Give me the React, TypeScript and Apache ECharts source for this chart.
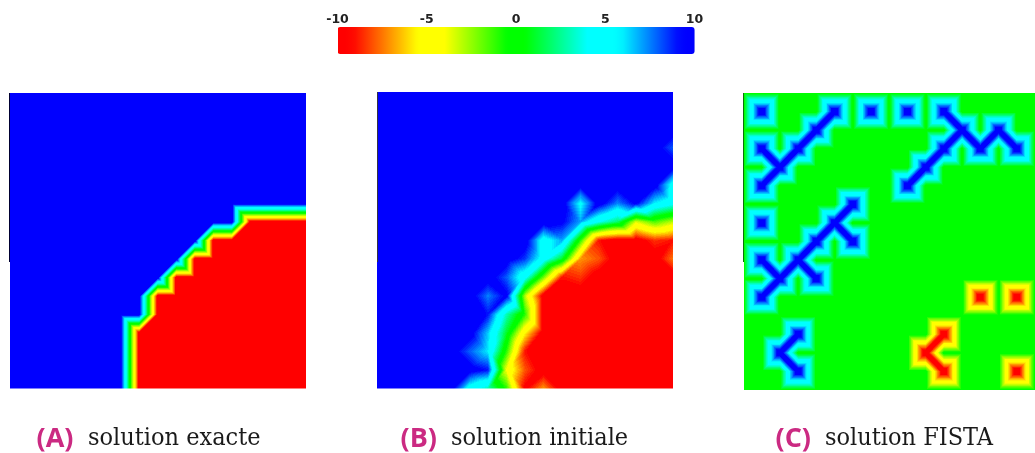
import React, { useEffect, useRef } from "react";
import * as echarts from "echarts";

const W = 1035;
const H = 453;

const scaleTicks = [-10, -5, 0, 5, 10];
const rampValues = [-10, -9.2, -5.5, -4, -0.5, 0.5, 4, 5.8, 9.2, 10];
const rampColors = ["#ff0000", "#ff0000", "#ffff00", "#ffff00", "#00ff00", "#00ff00", "#00ffff", "#00ffff", "#0000ff", "#0000ff"];
const captionLetters = ["(A)", "(B)", "(C)"];
const captionTexts = ["solution exacte", "solution initiale", "solution FISTA"];

// Node values on a 17 x 17 mesh (rows from top to bottom)
const exactValues: number[][] = [
  [10,10,10,10,10,10,10,10,10,10,10,10,10,10,10,10,10],
  [10,10,10,10,10,10,10,10,10,10,10,10,10,10,10,10,10],
  [10,10,10,10,10,10,10,10,10,10,10,10,10,10,10,10,10],
  [10,10,10,10,10,10,10,10,10,10,10,10,10,10,10,10,10],
  [10,10,10,10,10,10,10,10,10,10,10,10,10,10,10,10,10],
  [10,10,10,10,10,10,10,10,10,10,10,10,10,10,10,10,10],
  [10,10,10,10,10,10,10,10,10,10,10,10,10,10,10,10,10],
  [10,10,10,10,10,10,10,10,10,10,10,10,10,-10,-10,-10,-10],
  [10,10,10,10,10,10,10,10,10,10,10,-10,-10,-10,-10,-10,-10],
  [10,10,10,10,10,10,10,10,10,10,-10,-10,-10,-10,-10,-10,-10],
  [10,10,10,10,10,10,10,10,10,-10,-10,-10,-10,-10,-10,-10,-10],
  [10,10,10,10,10,10,10,10,-10,-10,-10,-10,-10,-10,-10,-10,-10],
  [10,10,10,10,10,10,10,10,-10,-10,-10,-10,-10,-10,-10,-10,-10],
  [10,10,10,10,10,10,10,-10,-10,-10,-10,-10,-10,-10,-10,-10,-10],
  [10,10,10,10,10,10,10,-10,-10,-10,-10,-10,-10,-10,-10,-10,-10],
  [10,10,10,10,10,10,10,-10,-10,-10,-10,-10,-10,-10,-10,-10,-10],
  [10,10,10,10,10,10,10,-10,-10,-10,-10,-10,-10,-10,-10,-10,-10],
];

const initialValues: number[][] = [
  [10,10,10,10,10,10,10,10,10,10,10,10,10,10,10,10,10],
  [10,10,10,10,10,10,10,10,10,10,10,10,10,10,10,10,10],
  [10,10,10,10,10,10,10,10,10,10,10,10,10,10,10,10,10],
  [10,10,10,10,10,10,10,10,10,10,10,10,10,10,10,10,8],
  [10,10,10,10,10,10,10,10,10,10,10,10,10,10,10,10,10],
  [10,10,10,10,10,10,10,10,10,10,10,10,10,10,10,10,5],
  [10,10,10,10,10,10,10,10,10,10,10,5.5,10,7.5,9.5,6,4.5],
  [10,10,10,10,10,10,10,10,10,10,9.5,7,4,2,-3.5,-1.5,-3],
  [10,10,10,10,10,10,10,10,10,5,7,-1,-9,-10,-10,-8.5,-9],
  [10,10,10,10,10,10,10,10,8.5,5,1,-7,-8,-10,-10,-10,-7.5],
  [10,10,10,10,10,10,10,8,4.5,-2,-9,-8.5,-10,-10,-10,-10,-10],
  [10,10,10,10,10,10,7.5,9.5,-3,-10,-10,-10,-10,-10,-10,-10,-10],
  [10,10,10,10,10,10,9,3,-1,-10,-10,-10,-10,-10,-10,-10,-10],
  [10,10,10,10,10,10,6.5,1,-5.5,-10,-10,-10,-10,-10,-10,-10,-10],
  [10,10,10,10,10,8,6,-1,-9,-10,-10,-10,-10,-10,-10,-10,-10],
  [10,10,10,10,10,10,9,-4,-8,-10,-10,-10,-10,-10,-10,-10,-10],
  [10,10,10,10,10,5,3,-1,-9.5,-7,-10,-10,-10,-10,-10,-10,-10],
];

const fistaValues: number[][] = [
  [0,0,0,0,0,0,0,0,0,0,0,0,0,0,0,0,0],
  [0,11,0,0,0,11,0,11,0,11,0,11,0,0,0,0,0],
  [0,0,0,0,11,0,0,0,0,0,0,0,11,0,11,0,0],
  [0,11,0,11,0,0,0,0,0,0,0,11,0,11,0,11,0],
  [0,0,11,0,0,0,0,0,0,0,11,0,0,0,0,0,0],
  [0,11,0,0,0,0,0,0,0,11,0,0,0,0,0,0,0],
  [0,0,0,0,0,0,11,0,0,0,0,0,0,0,0,0,0],
  [0,11,0,0,0,11,0,0,0,0,0,0,0,0,0,0,0],
  [0,0,0,0,11,0,11,0,0,0,0,0,0,0,0,0,0],
  [0,11,0,11,0,0,0,0,0,0,0,0,0,0,0,0,0],
  [0,0,11,0,11,0,0,0,0,0,0,0,0,0,0,0,0],
  [0,11,0,0,0,0,0,0,0,0,0,0,0,-11,0,-11,0],
  [0,0,0,0,0,0,0,0,0,0,0,0,0,0,0,0,0],
  [0,0,0,11,0,0,0,0,0,0,0,-11,0,0,0,0,0],
  [0,0,11,0,0,0,0,0,0,0,-11,0,0,0,0,0,0],
  [0,0,0,11,0,0,0,0,0,0,0,-11,0,0,0,-11,0],
  [0,0,0,0,0,0,0,0,0,0,0,0,0,0,0,0,0],
];

const panels = [exactValues, initialValues, fistaValues];

function colorOf(v: number): string {
  const x = Math.max(rampValues[0], Math.min(rampValues[rampValues.length - 1], v));
  let k = 0;
  while (k < rampValues.length - 2 && x > rampValues[k + 1]) k++;
  const f = (x - rampValues[k]) / (rampValues[k + 1] - rampValues[k]);
  const a = echarts.color.parse(rampColors[k]);
  const b = echarts.color.parse(rampColors[k + 1]);
  const c = [0, 1, 2].map((n) => Math.round(a[n] + (b[n] - a[n]) * f));
  return `rgb(${c[0]},${c[1]},${c[2]})`;
}

type P = [number, number, number];

function clipAbove(poly: P[], level: number, keepAbove: boolean): P[] {
  const out: P[] = [];
  const inside = (p: P) => (keepAbove ? p[2] >= level : p[2] <= level);
  for (let n = 0; n < poly.length; n++) {
    const a = poly[n];
    const b = poly[(n + 1) % poly.length];
    const ia = inside(a);
    const ib = inside(b);
    if (ia) out.push(a);
    if (ia !== ib) {
      const f = (level - a[2]) / (b[2] - a[2]);
      out.push([a[0] + (b[0] - a[0]) * f, a[1] + (b[1] - a[1]) * f, level]);
    }
  }
  return out;
}

function shadeTriangle(tri: P[], children: any[]) {
  const lo = Math.min(tri[0][2], tri[1][2], tri[2][2]);
  const hi = Math.max(tri[0][2], tri[1][2], tri[2][2]);
  const step = 0.25;
  for (let m = Math.round(lo / step); m <= Math.round(hi / step); m++) {
    const mid = m * step;
    let poly = clipAbove(tri, mid - step / 2, true);
    if (poly.length) poly = clipAbove(poly, mid + step / 2, false);
    if (poly.length < 3) continue;
    children.push({
      type: "polygon",
      shape: { points: poly.map((p) => [p[0], p[1]]) },
      style: { fill: colorOf(mid) },
    });
  }
}

function renderCell(_params: any, api: any) {
  const i = api.value(0);
  const j = api.value(1);
  const corner = (x: number, y: number, v: number): P => {
    const c = api.coord([x, y]);
    return [c[0], c[1], v];
  };
  const a = corner(i, j, api.value(2));
  const b = corner(i + 1, j, api.value(3));
  const c = corner(i, j + 1, api.value(4));
  const d = corner(i + 1, j + 1, api.value(5));
  const children: any[] = [];
  if (a[2] === b[2] && b[2] === c[2] && c[2] === d[2]) {
    children.push({
      type: "polygon",
      shape: { points: [a, b, d, c].map((p) => [p[0], p[1]]) },
      style: { fill: colorOf(a[2]) },
    });
  } else if ((i + j) % 2 === 0) {
    shadeTriangle([a, b, d], children);
    shadeTriangle([a, c, d], children);
  } else {
    shadeTriangle([b, a, c], children);
    shadeTriangle([b, d, c], children);
  }
  return { type: "group", children };
}

function cellsOf(values: number[][]) {
  const cells: number[][] = [];
  for (let j = 0; j < values.length - 1; j++) {
    for (let i = 0; i < values[j].length - 1; i++) {
      cells.push([i, j, values[j][i], values[j][i + 1], values[j + 1][i], values[j + 1][i + 1]]);
    }
  }
  return cells;
}

const panelBoxes = [
  { left: 9.5, top: 92.5, width: 296.5, height: 296 },
  { left: 377, top: 92, width: 296, height: 296.5 },
  { left: 743.5, top: 93, width: 297, height: 297 },
];

const edgeColors = ["#000033", "#333344", "#0c6f0c"];
const captionX = [36.5, 400.5, 775.5];
const captionTextX = [88, 451, 825];

export default function App() {
  const ref = useRef<HTMLDivElement>(null);
  useEffect(() => {
    const chart = echarts.init(ref.current!, undefined, { renderer: "svg" });
    const hiddenAxis = (gridIndex: number) => ({
      type: "value",
      gridIndex,
      min: 0,
      max: 16,
      show: false,
    });
    const graphic: any[] = [];
    captionLetters.forEach((t, n) => {
      graphic.push({
        type: "text",
        x: captionX[n],
        y: 436,
        style: {
          text: t,
          fill: "#cb2a82",
          font: "bold 27px 'Open Sans'",
          verticalAlign: "middle",
        },
      });
      graphic.push({
        type: "text",
        x: captionTextX[n],
        y: 436,
        style: {
          text: captionTexts[n],
          fill: "#1a1a1a",
          font: "25px 'DejaVu Serif Condensed', 'DejaVu Serif'",
          verticalAlign: "middle",
        },
      });
    });
    panelBoxes.forEach((b, n) => {
      graphic.push({
        type: "line",
        shape: { x1: b.left, y1: b.top, x2: b.left, y2: 262 },
        style: { stroke: edgeColors[n], lineWidth: 1 },
        z: 10,
      });
    });
    const ramp: string[] = [];
    for (let n = 0; n <= 40; n++) ramp.push(colorOf(-10 + n * 0.5));
    chart.setOption({
      animation: false,
      backgroundColor: "#ffffff",
      grid: [
        ...panelBoxes.map((b) => ({ ...b, containLabel: false })),
        { left: 337.5, top: 27, width: 357, height: 27 },
      ],
      xAxis: [
        hiddenAxis(0),
        hiddenAxis(1),
        hiddenAxis(2),
        {
          type: "value",
          gridIndex: 3,
          min: scaleTicks[0],
          max: scaleTicks[scaleTicks.length - 1],
          interval: 5,
          position: "top",
          axisLine: { show: false },
          axisTick: { show: false },
          splitLine: { show: false },
          axisLabel: {
            margin: 2,
            fontFamily: "'DejaVu Sans'",
            fontWeight: "bold",
            fontSize: 12.5,
            color: "#222222",
          },
        },
      ],
      yAxis: [
        { ...hiddenAxis(0), inverse: true },
        { ...hiddenAxis(1), inverse: true },
        { ...hiddenAxis(2), inverse: true },
        { type: "value", gridIndex: 3, min: 0, max: 1, show: false },
      ],
      visualMap: {
        type: "continuous",
        seriesIndex: 3,
        min: scaleTicks[0],
        max: scaleTicks[scaleTicks.length - 1],
        orient: "horizontal",
        left: 337.5,
        top: 27,
        padding: 0,
        itemWidth: 27,
        itemHeight: 357,
        itemSymbol: "rect",
        showLabel: false,
        calculable: false,
        hoverLink: false,
        inRange: { color: ramp },
      },
      series: [
        ...panels.map((values, n) => ({
          type: "custom",
          xAxisIndex: n,
          yAxisIndex: n,
          coordinateSystem: "cartesian2d",
          clip: true,
          silent: true,
          encode: { x: 0, y: 1 },
          data: cellsOf(values),
          renderItem: renderCell,
        })),
        { type: "scatter", xAxisIndex: 3, yAxisIndex: 3, data: [], silent: true },
      ],
      graphic,
    });
    return () => chart.dispose();
  }, []);
  return (
    <>
      <style>{`#chart-root svg path { shape-rendering: crispEdges; }`}</style>
      <div
        id="chart-root"
        ref={ref}
        style={{ position: "absolute", left: 0, top: 0, width: W, height: H, filter: "blur(0.45px)" }}
      />
    </>
  );
}
